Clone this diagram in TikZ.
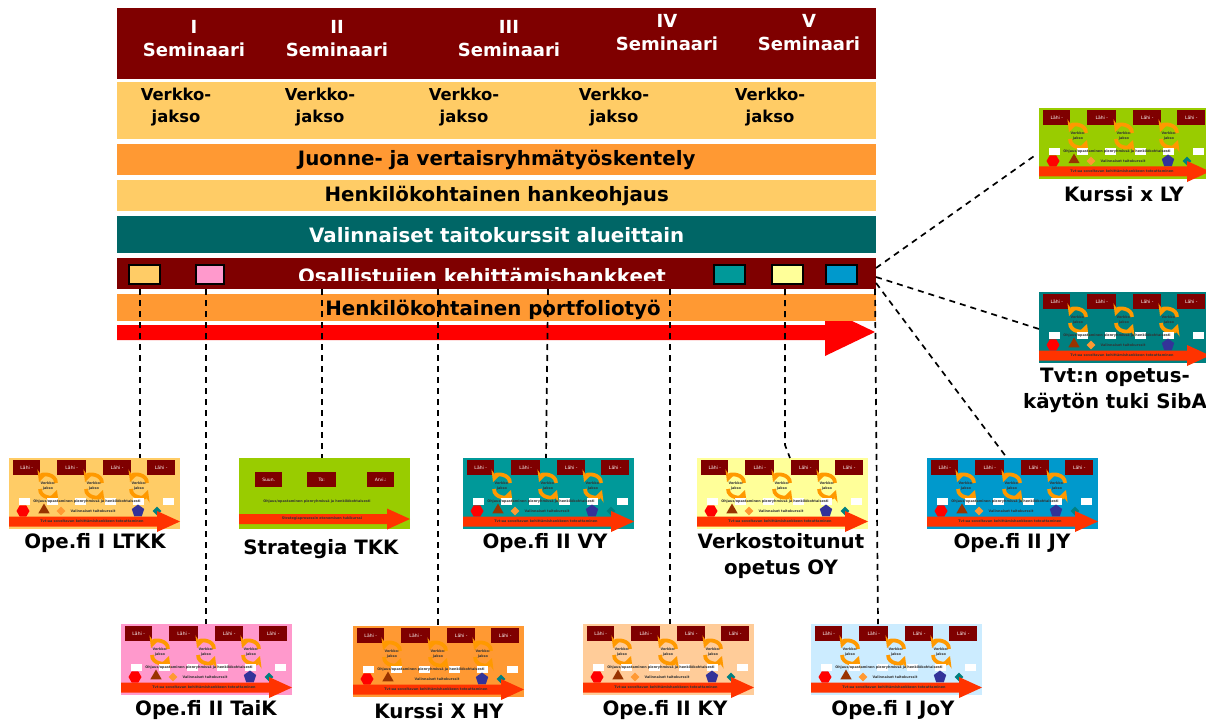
\documentclass[tikz,border=0pt]{standalone}
\usepackage{fontspec}
\setmainfont{DejaVu Sans}
\usetikzlibrary{shapes.geometric}
\definecolor{darkred}{HTML}{7F0000}
\definecolor{sandbar}{HTML}{FFCC66}
\definecolor{orangebar}{HTML}{FF9933}
\definecolor{tealbar}{HTML}{006666}
\definecolor{teal2}{HTML}{009999}
\definecolor{teal3}{HTML}{008080}
\definecolor{arrowred}{HTML}{FF3300}
\definecolor{pinkbox}{HTML}{FF99CC}
\definecolor{yellowbox}{HTML}{FFFF99}
\definecolor{bluebox}{HTML}{0099CC}
\definecolor{peachbox}{HTML}{FFCC99}
\definecolor{skybox}{HTML}{CCECFF}
\definecolor{limebox}{HTML}{99CC00}
\definecolor{brown3}{HTML}{993300}
\definecolor{blue3}{HTML}{333399}
\definecolor{swirlcol}{HTML}{FF9900}

% small course strip: name, x, y, background
\newcommand{\coursestrip}[4]{
\begin{scope}[shift={(#2,#3)}]
\node [strip, fill=#4] (#1) at (0,0) {};
\foreach \xx/\ww in {4/27,48/29,94/28,138/28}
  \node [lahibox, minimum width=\ww] (#1lahi\xx) at (\xx,2) {Lähi -};
\foreach \xx in {39,85,130} {
  \draw [swirl] (\xx+8,25) .. controls (\xx+8,15.5) and (\xx-6,15.5) .. (\xx-9,24);
  \draw [swirl] (\xx-8,31) .. controls (\xx-8,40.5) and (\xx+6,40.5) .. (\xx+9,32);
  \node [tiny] (#1verkko\xx) at (\xx,28) {Verkko-\\jakso};
}
\foreach \xx in {10,38,66,96,124,154}
  \node [whitebox] (#1white\xx) at (\xx,40) {};
\node [tiny] (#1ohjaus) at (78,44) {Ohjaus/opastaminen pienryhmissä ja henkilökohtaisesti};
\node [marker, regular polygon, regular polygon sides=6, fill=red] (#1hex) at (14,53) {};
\node [marker, regular polygon, regular polygon sides=3, fill=brown3] (#1tri) at (35,52) {};
\node [smallmark, diamond, fill=orangebar] (#1dia) at (52,53) {};
\node [tiny] (#1valin) at (84,53) {Valinnaiset taitokurssit};
\node [marker, regular polygon, regular polygon sides=5, fill=blue3] (#1pent) at (129,53) {};
\node [smallmark, diamond, fill=teal3] (#1dib) at (148,53) {};
\fill [arrowred] (0,58.5) -- (148,58.5) -- (148,53) -- (171,63.5) -- (148,74) -- (148,68.5) -- (0,68.5) -- cycle;
\node [tiny] (#1tvt) at (83,63.5) {Tvt:aa soveltavan kehittämishankkeen toteuttaminen};
\end{scope}
}

\begin{document}
\begin{tikzpicture}[x=1pt,y=-1pt]
\tikzstyle{bar} = [rectangle, anchor=north west, minimum width=759, inner sep=0pt, text=black,
font=\fontsize{19.8}{20}\selectfont\bfseries];
\tikzstyle{head} = [white, font=\fontsize{18}{23}\selectfont\bfseries, align=center, inner sep=0pt];
\tikzstyle{jakso} = [black, font=\fontsize{16.4}{22}\selectfont\bfseries, align=center, inner sep=0pt];
\tikzstyle{swatch} = [rectangle, draw=black, line width=1.5pt, anchor=north west, inner sep=0pt, minimum height=19];
\tikzstyle{caption} = [black, font=\fontsize{19.8}{26}\selectfont\bfseries, align=center, inner sep=0pt];
\tikzstyle{strip} = [rectangle, anchor=north west, minimum width=171, minimum height=71, inner sep=0pt];
\tikzstyle{lahibox} = [rectangle, fill=darkred, text=white, anchor=north west, minimum height=15, inner sep=0pt,
font=\fontsize{4.5}{5}\selectfont];
\tikzstyle{whitebox} = [rectangle, fill=white, anchor=north west, minimum width=11, minimum height=7, inner sep=0pt];
\tikzstyle{tiny} = [black!80, font=\fontsize{3.4}{5}\selectfont\bfseries, align=center, inner sep=0pt];
\tikzstyle{marker} = [inner sep=0pt, minimum size=13];
\tikzstyle{smallmark} = [inner sep=0pt, minimum size=9];
\tikzstyle{swirl} = [draw=swirlcol, line width=3.8pt, ->, >=stealth];
\tikzstyle{dashline} = [draw=black, line width=1.7pt, dash pattern=on 6pt off 5pt];

\useasboundingbox (0,0) rectangle (1206,722);
\clip (0,0) rectangle (1206,722);

% bars
\node [bar, fill=darkred, minimum height=71] (seminars) at (117,8) {};
\node [bar, fill=sandbar, minimum height=57] (webbar) at (117,82) {};
\node [bar, fill=orangebar, minimum height=31] (peerbar) at (117,144) {Juonne- ja vertaisryhmätyöskentely};
\node [bar, fill=sandbar, minimum height=31] (guidebar) at (117,180) {Henkilökohtainen hankeohjaus};
\node [bar, fill=tealbar, text=white, minimum height=37] (skillbar) at (117,216) {Valinnaiset taitokurssit alueittain};

% red arrow goes under the portfolio bar
\fill [red] (117,325) -- (825,325) -- (825,308) -- (875,332) -- (825,356) -- (825,340) -- (117,340) -- cycle;
\node [bar, fill=orangebar, minimum height=27] (portbar) at (117,294) {};
\node [inner sep=0pt, font=\fontsize{19.8}{20}\selectfont\bfseries] (porttext) at (493,310) {Henkilökohtainen portfoliotyö};

\node [bar, fill=darkred, minimum height=31] (projbar) at (117,258) {};
\node [anchor=base, text=white, inner sep=0pt, font=\fontsize{19.8}{20}\selectfont\bfseries] (projtext) at (482,283) {Osallistujien kehittämishankkeet};
\fill [darkred] (117,281) rectangle (876,289);

\node [swatch, fill=sandbar, minimum width=31] (swatchA) at (128,264) {};
\node [swatch, fill=pinkbox, minimum width=28] (swatchB) at (195,264) {};
\node [swatch, fill=teal2, minimum width=31] (swatchC) at (713,264) {};
\node [swatch, fill=yellowbox, minimum width=31] (swatchD) at (771,264) {};
\node [swatch, fill=bluebox, minimum width=31] (swatchE) at (825,264) {};

% seminar titles
\node [head] (semA) at (194,39) {I\\Seminaari};
\node [head] (semB) at (337,39) {II\\Seminaari};
\node [head] (semC) at (509,39) {III\\Seminaari};
\node [head] (semD) at (667,33) {IV\\Seminaari};
\node [head] (semE) at (809,33) {V\\Seminaari};
\node [jakso] (webA) at (176,107) {Verkko-\\jakso};
\node [jakso] (webB) at (320,107) {Verkko-\\jakso};
\node [jakso] (webC) at (464,107) {Verkko-\\jakso};
\node [jakso] (webD) at (614,107) {Verkko-\\jakso};
\node [jakso] (webE) at (770,107) {Verkko-\\jakso};

% course strips
\coursestrip{ltkk}{9}{458}{sandbar}
\coursestrip{vy}{463}{458}{teal2}
\coursestrip{oy}{697}{458}{yellowbox}
\coursestrip{jy}{927}{458}{bluebox}
\coursestrip{taik}{121}{624}{pinkbox}
\coursestrip{hy}{353}{626}{orangebar}
\coursestrip{ky}{583}{624}{peachbox}
\coursestrip{joy}{811}{624}{skybox}
\coursestrip{ly}{1039}{108}{limebox}
\coursestrip{siba}{1039}{292}{teal3}

% strategia has its own layout
\begin{scope}[shift={(239,458)}]
\node [strip, fill=limebox] (tkk) at (0,0) {};
\node [lahibox, minimum width=27] (tkkA) at (16,14) {Suun.};
\node [lahibox, minimum width=29] (tkkB) at (68,14) {To:};
\node [lahibox, minimum width=27] (tkkC) at (128,14) {Arvi.:};
\node [tiny] (tkkohjaus) at (78,44) {Ohjaus/opastaminen pienryhmissä ja henkilökohtaisesti};
\fill [arrowred] (0,56) -- (148,56) -- (148,50.5) -- (171,61) -- (148,71.5) -- (148,66) -- (0,66) -- cycle;
\node [tiny] (tkktvt) at (83,61) {Strategiaprosessin etenemisen tukikurssi};
\end{scope}

% captions
\node [caption] (capA) at (95,543.5) {Ope.fi I LTKK};
\node [caption] (capB) at (321,549) {Strategia TKK};
\node [caption] (capC) at (545,543) {Ope.fi II VY};
\node [caption] (capD) at (781,556) {Verkostoitunut\\opetus OY};
\node [caption] (capE) at (1012,543) {Ope.fi II JY};
\node [caption] (capF) at (206,710) {Ope.fi II TaiK};
\node [caption] (capG) at (439,711) {Kurssi X HY};
\node [caption] (capH) at (665,710) {Ope.fi II KY};
\node [caption] (capI) at (893,710) {Ope.fi I JoY};
\node [caption] (capJ) at (1124,194) {Kurssi x LY};
\node [caption] (capK) at (1115,390) {Tvt:n opetus-\\käytön tuki SibA};

% dashed connectors
\coordinate (tapA) at (140,289);
\coordinate (tapB) at (206,289);
\coordinate (tapC) at (322,289);
\coordinate (tapD) at (438,289);
\coordinate (tapE) at (548,289);
\coordinate (tapF) at (670,289);
\coordinate (tapG) at (785,289);
\coordinate (tapH) at (875,289);
\coordinate (tapL) at (876,268);
\coordinate (tapM) at (876,277);
\coordinate (tapN) at (876,283);
\coordinate (endE) at (546,458);
\coordinate (kinkG) at (785,445);
\coordinate (endG) at (790,458);
\coordinate (endH) at (878,624);
\coordinate (endL) at (1037,154);
\coordinate (endM) at (1039,329);
\coordinate (endN) at (1007,458);
\draw [dashline] (tapA) -- (tapA |- ltkk.north);
\draw [dashline] (tapB) -- (tapB |- taik.north);
\draw [dashline] (tapC) -- (tapC |- tkk.north);
\draw [dashline] (tapD) -- (tapD |- hy.north);
\draw [dashline] (tapE) -- (endE);
\draw [dashline] (tapF) -- (tapF |- ky.north);
\draw [dashline] (tapG) -- (kinkG) -- (endG);
\draw [dashline] (tapH) -- (endH);
\draw [dashline] (tapL) -- (endL);
\draw [dashline] (tapM) -- (endM);
\draw [dashline] (tapN) -- (endN);
\end{tikzpicture}
\end{document}
